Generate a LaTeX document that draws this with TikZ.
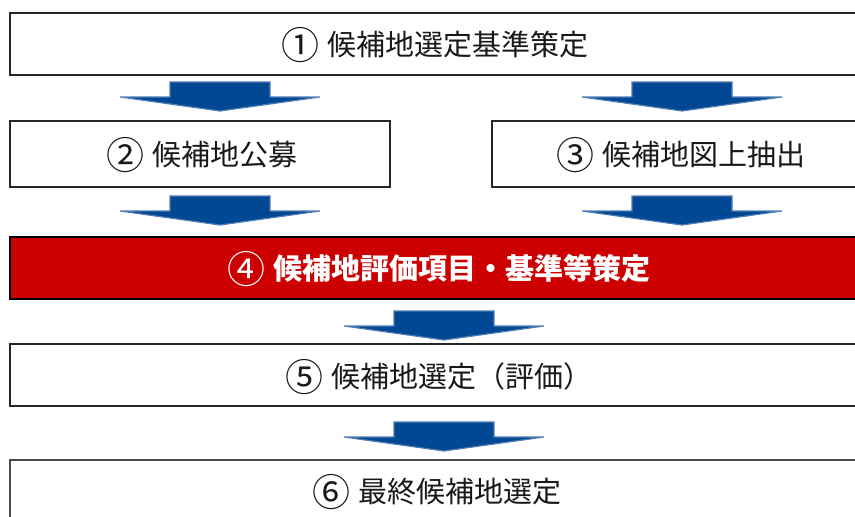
\documentclass[tikz,border=0pt]{standalone}
\usepackage{fontspec}
\setmainfont{Noto Sans CJK JP}
\definecolor{arrowblue}{RGB}{0,72,148}
\definecolor{arrowedge}{RGB}{80,125,180}
\definecolor{boxred}{RGB}{204,0,0}
\newcommand{\cnum}[1]{\raisebox{-3.5pt}{\fontsize{38}{38}\selectfont\mdseries #1}\hspace{8pt}}
\tikzset{
  box/.style={draw=black!85, line width=1.3pt, fill=white},
  redbox/.style={draw=black, line width=1.3pt, fill=boxred},
  boxtext/.style={font=\fontsize{29}{32}\selectfont, text=black!90},
  redtext/.style={font=\fontsize{29}{32}\selectfont\bfseries, text=white},
  barrow/.pic={
    \path[fill=arrowblue, draw=arrowedge, line width=1.2pt, line join=miter]
      (-50,0) -- (50,0) -- (50,15) -- (100,15) -- (0,29) -- (-100,15) -- (-50,15) -- cycle;
  }
}
\begin{document}
\begin{tikzpicture}[x=1pt, y=-1pt]
\useasboundingbox (0,0) rectangle (855,517);
% boxes
\draw[box] (10,13) rectangle (875,75);
\node[boxtext] (t1) at (435,45) {\cnum{①}候補地選定基準策定};
\draw[box] (10,121) rectangle (390,187);
\node[boxtext] (t2) at (202,155) {\cnum{②}候補地公募};
\draw[box] (492,121) rectangle (875,187);
\node[boxtext] (t3) at (681,155) {\cnum{③}候補地図上抽出};
\draw[redbox] (10,237) rectangle (875,299);
\node[redtext] (t4) at (439,269) {\cnum{④}候補地評価項目・基準等策定};
\draw[box] (10,344) rectangle (875,406);
\node[boxtext] (t5) at (439,377) {\cnum{⑤}候補地選定（評価）};
\draw[box, draw=black!70] (10,460) rectangle (875,540);
\node[boxtext] (t6) at (437,492) {\cnum{⑥}最終候補地選定};
% block arrows
\pic at (220,82) {barrow};
\pic at (682,82) {barrow};
\pic at (220,196) {barrow};
\pic at (682,196) {barrow};
\pic at (444,311) {barrow};
\pic at (444,422) {barrow};
\end{tikzpicture}
\end{document}
